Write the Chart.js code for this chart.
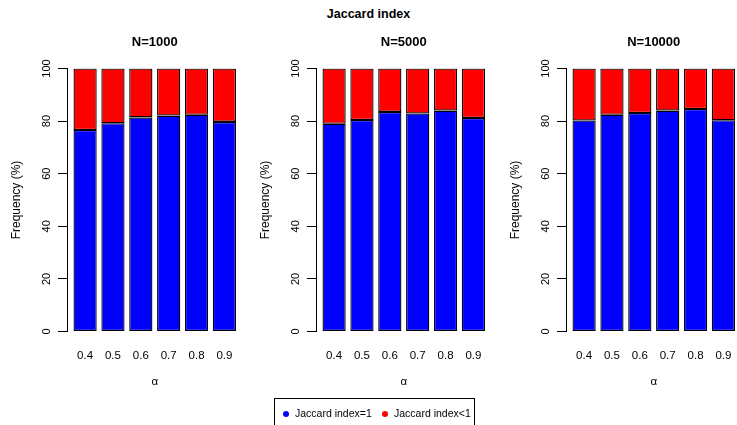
<!DOCTYPE html>
<html>
<head>
<meta charset="utf-8">
<script src="https://cdn.jsdelivr.net/npm/chart.js@4.4.1/dist/chart.umd.min.js"></script>
<style>
  html, body { margin: 0; padding: 0; background: #fff; }
  #wrap { position: relative; width: 737px; height: 425px; overflow: hidden;
          font-family: "Liberation Sans", Arial, Helvetica, sans-serif; color: #000; }
  #wrap canvas { position: absolute; top: 0; }
  #mainTitle { position: absolute; left: 0; width: 737px; top: 6px; text-align: center;
               font-weight: bold; font-size: 12.5px; line-height: 16px; }
  #legend { position: absolute; left: 274px; top: 398px; width: 201px; height: 31px;
            border: 1px solid #000; box-sizing: border-box; font-size: 10.5px; }
  #legend .dot { position: absolute; width: 6px; height: 6px; border-radius: 50%; top: 12px; }
  #legend .lab { position: absolute; top: 8px; line-height: 12px; white-space: nowrap; }
</style>
</head>
<body>
<div id="wrap">
  <div id="mainTitle">Jaccard index</div>
  <canvas id="p1" width="250" height="425" style="left:0px"></canvas>
  <canvas id="p2" width="250" height="425" style="left:249px"></canvas>
  <canvas id="p3" width="250" height="425" style="left:499px"></canvas>
  <div id="legend"></div>
</div>
<script>
// alpha values on the x axis
const alphaLabels = ['0.4', '0.5', '0.6', '0.7', '0.8', '0.9'];
const yTicks = [0, 20, 40, 60, 80, 100];

// share of runs (%) with Jaccard index = 1, per alpha
const exactN1000  = [76.6, 79.2, 81.4, 82.1, 82.4, 79.7];
const exactN5000  = [79.0, 80.4, 83.5, 82.9, 84.0, 81.2];
const exactN10000 = [80.2, 82.4, 83.1, 84.0, 84.6, 80.3];

// share of runs (%) with Jaccard index < 1, per alpha
const belowN1000  = [23.4, 20.8, 18.6, 17.9, 17.6, 20.3];
const belowN5000  = [21.0, 19.6, 16.5, 17.1, 16.0, 18.8];
const belowN10000 = [19.8, 17.6, 16.9, 16.0, 15.4, 19.7];

const seriesNames = ['Jaccard index=1', 'Jaccard index<1'];
const seriesColors = ['#0000FF', '#FF0000'];

const panels = [
  { id: 'p1', title: 'N=1000',  exact: exactN1000,  below: belowN1000 },
  { id: 'p2', title: 'N=5000',  exact: exactN5000,  below: belowN5000 },
  { id: 'p3', title: 'N=10000', exact: exactN10000, below: belowN10000 }
];

const FONT = '"Liberation Sans", Arial, Helvetica, sans-serif';

// bar geometry in the style of base R barplot: width 1, space 0.2
const BAR_W = 1, SPACE = 0.2;
const centerOf = i => SPACE + i * (BAR_W + SPACE) + BAR_W / 2;
const xLo = SPACE, xHi = alphaLabels.length * (BAR_W + SPACE);
const xPad = (xHi - xLo) * 0.04;

// panel heading drawn above the plotting area
const panelTitle = {
  id: 'panelTitle',
  afterDraw(chart, args, opts) {
    const { ctx, chartArea } = chart;
    ctx.save();
    ctx.font = 'bold 13px ' + FONT;
    ctx.fillStyle = '#000';
    ctx.textAlign = 'center';
    ctx.textBaseline = 'middle';
    ctx.fillText(opts.text, (chartArea.left + chartArea.right) / 2, 42);
    ctx.restore();
  }
};

panels.forEach(p => {
  const toPoints = arr => arr.map((v, i) => ({ x: centerOf(i), y: v }));
  new Chart(document.getElementById(p.id), {
    type: 'bar',
    data: {
      datasets: [
        { label: seriesNames[0], data: toPoints(p.exact), backgroundColor: seriesColors[0] },
        { label: seriesNames[1], data: toPoints(p.below), backgroundColor: seriesColors[1] }
      ]
    },
    options: {
      responsive: false,
      animation: false,
      devicePixelRatio: 1,
      layout: { padding: { top: 68.5, left: 0, right: 6, bottom: 0 } },
      datasets: {
        bar: {
          borderColor: '#000',
          borderWidth: 1.3,
          borderSkipped: false,
          categoryPercentage: 1,
          barPercentage: BAR_W / (BAR_W + SPACE)
        }
      },
      plugins: {
        legend: { display: false },
        tooltip: { enabled: false },
        panelTitle: { text: p.title }
      },
      scales: {
        x: {
          type: 'linear',
          stacked: true,
          offset: false,
          min: xLo - xPad,
          max: xHi + xPad,
          grid: { display: false, drawTicks: false },
          border: { display: false },
          afterBuildTicks: s => { s.ticks = alphaLabels.map((l, i) => ({ value: centerOf(i) })); },
          afterFit: s => { s.height = 93.5; },
          ticks: {
            autoSkip: false,
            maxRotation: 0,
            padding: 17,
            color: '#000',
            font: { family: FONT, size: 11.5 },
            callback: (v, i) => alphaLabels[i]
          },
          title: {
            display: true,
            text: 'α',
            color: '#000',
            font: { family: FONT, size: 11.5 },
            padding: { top: 0, bottom: 36 }
          }
        },
        y: {
          stacked: true,
          min: 0,
          max: 100,
          afterBuildTicks: s => { s.ticks = yTicks.map(v => ({ value: v })); },
          afterFit: s => { s.width = 67; },
          grid: { display: true, drawOnChartArea: false, drawTicks: true, tickLength: 9, color: '#000', lineWidth: 1 },
          border: { display: true, color: '#000', width: 1 },
          ticks: {
            minRotation: 90,
            maxRotation: 90,
            crossAlign: 'center',
            padding: 2,
            color: '#000',
            font: { family: FONT, size: 11 }
          },
          title: {
            display: true,
            text: 'Frequency (%)',
            color: '#000',
            font: { family: FONT, size: 12 },
            padding: { top: 9, bottom: 0 }
          }
        }
      }
    },
    plugins: [panelTitle]
  });
});

// legend box under the panels
const legend = document.getElementById('legend');
const legendPos = [{ dot: 7.5, lab: 20 }, { dot: 107, lab: 119 }];
seriesNames.forEach((name, k) => {
  const d = document.createElement('span');
  d.className = 'dot';
  d.style.left = legendPos[k].dot + 'px';
  d.style.background = seriesColors[k];
  legend.appendChild(d);
  const t = document.createElement('span');
  t.className = 'lab';
  t.style.left = legendPos[k].lab + 'px';
  t.textContent = name;
  legend.appendChild(t);
});
</script>
</body>
</html>
